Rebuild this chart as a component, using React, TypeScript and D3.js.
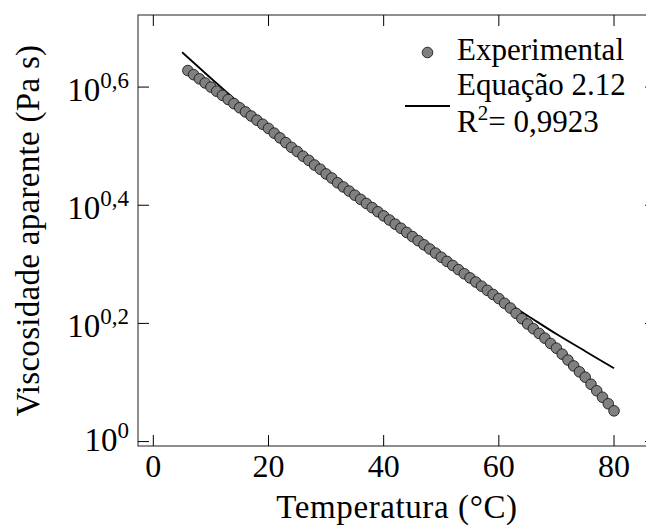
import React from 'react';
import * as d3 from 'd3';

// Measured apparent viscosity, stored as log10(Pa s), one reading per °C
const temperature = [
  6, 7, 8, 9, 10, 11, 12, 13, 14, 15, 16, 17, 18, 19, 20, 21, 22, 23, 24, 25,
  26, 27, 28, 29, 30, 31, 32, 33, 34, 35, 36, 37, 38, 39, 40, 41, 42, 43, 44, 45,
  46, 47, 48, 49, 50, 51, 52, 53, 54, 55, 56, 57, 58, 59, 60, 61, 62, 63, 64, 65,
  66, 67, 68, 69, 70, 71, 72, 73, 74, 75, 76, 77, 78, 79, 80,
];
const logViscosity = [
  0.628, 0.621, 0.614, 0.607, 0.6, 0.593, 0.586, 0.579, 0.572, 0.565,
  0.558, 0.551, 0.544, 0.537, 0.53, 0.522, 0.514, 0.506, 0.498, 0.491,
  0.483, 0.476, 0.468, 0.461, 0.453, 0.446, 0.438, 0.431, 0.424, 0.417,
  0.41, 0.403, 0.396, 0.389, 0.382, 0.375, 0.368, 0.361, 0.354, 0.347,
  0.34, 0.333, 0.326, 0.319, 0.312, 0.305, 0.298, 0.291, 0.284, 0.277,
  0.27, 0.263, 0.256, 0.249, 0.242, 0.234, 0.226, 0.217, 0.208, 0.199,
  0.191, 0.183, 0.175, 0.166, 0.158, 0.148, 0.138, 0.128, 0.118, 0.109,
  0.097, 0.086, 0.075, 0.064, 0.052,
];

// Fitted model (Equação 2.12), sampled every 5 °C, log10(Pa s)
const fitTemperature = [5, 10, 15, 20, 25, 30, 35, 40, 45, 50, 55, 60, 65, 70, 75, 80];
const fitLogViscosity = [
  0.659, 0.615, 0.572, 0.53, 0.49, 0.452, 0.414, 0.378,
  0.343, 0.309, 0.276, 0.244, 0.213, 0.182, 0.153, 0.124,
];

const xTicks = [0, 20, 40, 60, 80];
const yTicks = [0, 0.2, 0.4, 0.6];
const yTickExponents = ['0', '0,2', '0,4', '0,6'];

const xTitle = 'Temperatura (°C)';
const yTitle = 'Viscosidade aparente (Pa s)';
const legendPoints = 'Experimental';
const legendFit = 'Equação 2.12';
const rSquared = '0,9923';

const textStyle: React.CSSProperties = {
  fontFamily: 'Liberation Serif, DejaVu Serif, serif',
};

export default function App() {
  const W = 646;
  const H = 528;
  const left = 138;
  const right = 656;
  const top = 15;
  const bottom = 446;
  const tickLen = 11;

  const x = d3.scaleLinear().domain([-2.66, 87.29]).range([left, right]);
  const y = d3.scaleLinear().domain([-0.0075, 0.722]).range([bottom, top]);

  const fitPath =
    d3
      .line<number>()
      .x((_, i) => x(fitTemperature[i]))
      .y((d) => y(d))
      .curve(d3.curveMonotoneX)(fitLogViscosity) || '';

  return (
    <svg
      width={W}
      height={H}
      viewBox={`0 0 ${W} ${H}`}
      style={{ position: 'absolute', left: 0, top: 0, background: '#fff' }}
    >
      <rect x={0} y={0} width={W} height={H} fill="#fff" />

      {/* fitted curve under the markers */}
      <path d={fitPath} fill="none" stroke="#000" strokeWidth={1.8} />

      {/* experimental points */}
      <g>
        {temperature.map((t, i) => (
          <circle
            key={t}
            cx={x(t)}
            cy={y(logViscosity[i])}
            r={5.3}
            fill="#808080"
            stroke="#1a1a1a"
            strokeWidth={0.9}
          />
        ))}
      </g>

      {/* frame */}
      <rect
        x={left}
        y={top}
        width={right - left}
        height={bottom - top}
        fill="none"
        stroke="#444"
        strokeWidth={1.2}
      />

      {/* x ticks, bottom and top */}
      {xTicks.map((t) => (
        <g key={`x${t}`}>
          <line x1={x(t)} x2={x(t)} y1={bottom} y2={bottom - tickLen} stroke="#000" strokeWidth={1} />
          <line x1={x(t)} x2={x(t)} y1={top} y2={top + tickLen} stroke="#000" strokeWidth={1} />
          <text x={x(t)} y={477} fontSize={32} textAnchor="middle" fill="#000" style={textStyle}>
            {t}
          </text>
        </g>
      ))}

      {/* y ticks, left and right */}
      {yTicks.map((v, i) => (
        <g key={`y${v}`}>
          <line x1={left} x2={left + tickLen} y1={y(v)} y2={y(v)} stroke="#000" strokeWidth={1} />
          <line x1={right} x2={right - tickLen} y1={y(v)} y2={y(v)} stroke="#000" strokeWidth={1} />
          <text
            x={129}
            y={y(v) + (v === 0 ? 9.5 : 14)}
            fontSize={33}
            textAnchor="end"
            fill="#000"
            style={textStyle}
          >
            10
            <tspan dy={-13.5} fontSize={23}>
              {yTickExponents[i]}
            </tspan>
          </text>
        </g>
      ))}

      {/* axis titles */}
      <text
        x={(left + right) / 2}
        y={518}
        fontSize={33}
        letterSpacing={0.6}
        textAnchor="middle"
        fill="#000"
        style={textStyle}
      >
        {xTitle}
      </text>
      <text
        transform={`translate(39, ${(top + bottom) / 2}) rotate(-90)`}
        fontSize={33}
        letterSpacing={0.3}
        textAnchor="middle"
        fill="#000"
        style={textStyle}
      >
        {yTitle}
      </text>

      {/* legend */}
      <circle cx={427.5} cy={52.5} r={5.3} fill="#808080" stroke="#1a1a1a" strokeWidth={0.9} />
      <line x1={405} x2={450} y1={106} y2={106} stroke="#000" strokeWidth={1.8} />
      <text x={457} y={60} fontSize={31} fill="#000" style={textStyle}>
        {legendPoints}
      </text>
      <text x={457} y={95} fontSize={31} fill="#000" style={textStyle}>
        {legendFit}
      </text>
      <text x={457} y={131.5} fontSize={31} fill="#000" style={textStyle}>
        R
        <tspan dy={-12} fontSize={21}>
          2
        </tspan>
        <tspan dy={12}>= {rSquared}</tspan>
      </text>
    </svg>
  );
}
